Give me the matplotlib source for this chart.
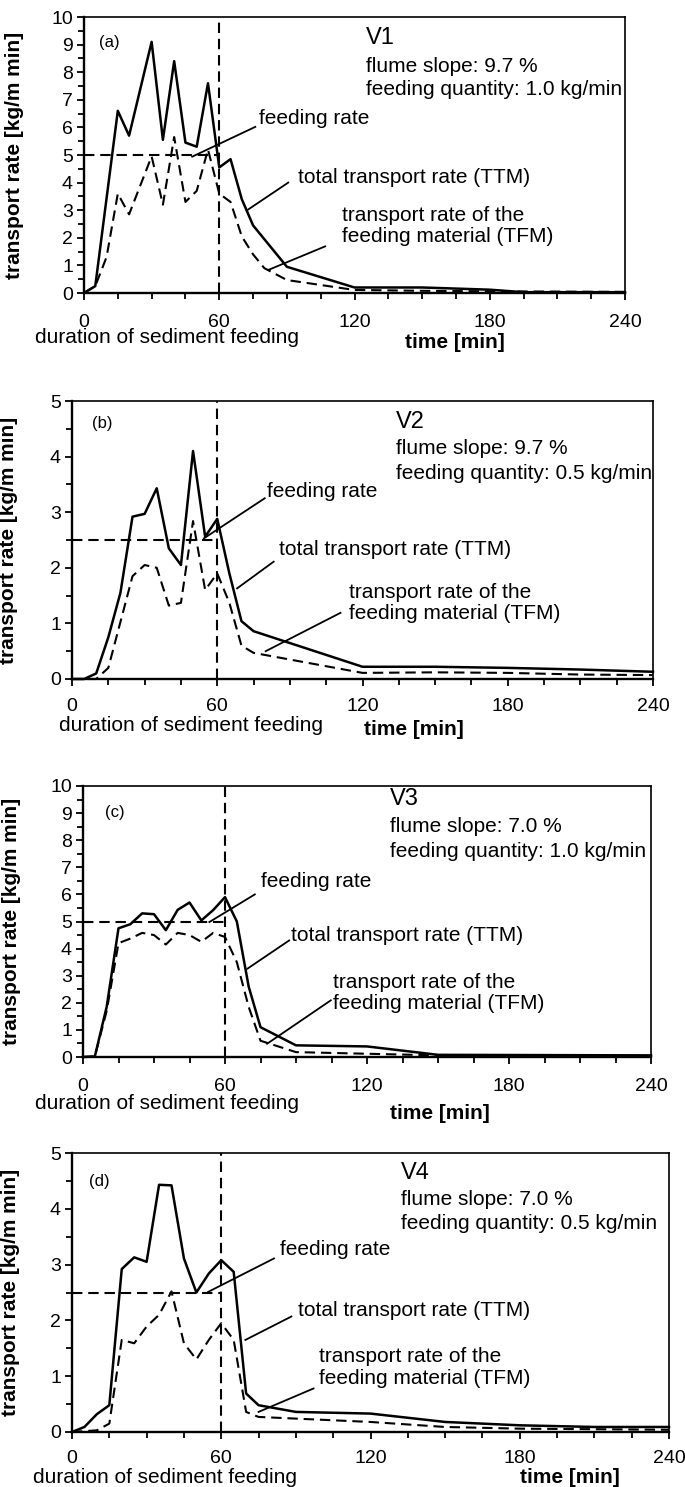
import matplotlib
matplotlib.use("Agg")
import matplotlib.pyplot as plt
from matplotlib.ticker import MultipleLocator

plt.rcParams["font.family"] = ["Liberation Sans", "DejaVu Sans"]

# ---- data (time in min, rate in kg/(m min)) ----
t_ttm_a = [0, 5, 15, 20, 30, 35, 40, 45, 50, 55, 60, 65, 70, 75, 90, 120, 150, 180, 195, 240]
ttm_a = [0, 0.25, 6.6, 5.7, 9.1, 5.55, 8.4, 5.45, 5.3, 7.6, 4.55, 4.85, 3.4, 2.45, 0.95, 0.2, 0.2, 0.12, 0.03, 0.03]
t_tfm_a = [0, 5, 10, 15, 20, 30, 35, 40, 45, 50, 55, 60, 65, 70, 75, 80, 90, 120, 150, 180, 240]
tfm_a = [0, 0.25, 1.3, 3.6, 2.85, 4.95, 3.2, 5.65, 3.3, 3.7, 5.2, 3.6, 3.3, 2.05, 1.4, 0.9, 0.47, 0.11, 0.08, 0.06, 0.04]

t_ttm_b = [0, 5, 10, 15, 20, 25, 30, 35, 40, 45, 50, 55, 60, 65, 70, 75, 120, 150, 180, 210, 240]
ttm_b = [0, 0.0, 0.1, 0.75, 1.55, 2.92, 2.97, 3.43, 2.35, 2.05, 4.1, 2.56, 2.88, 1.9, 1.04, 0.86, 0.22, 0.22, 0.2, 0.17, 0.13]
t_tfm_b = [0, 10, 15, 25, 30, 35, 40, 45, 50, 55, 60, 65, 70, 75, 120, 150, 180, 210, 240]
tfm_b = [0, 0, 0.2, 1.85, 2.05, 2.0, 1.32, 1.37, 2.84, 1.6, 1.9, 1.37, 0.6, 0.47, 0.11, 0.12, 0.11, 0.08, 0.07]

t_ttm_c = [0, 5, 10, 15, 20, 25, 30, 35, 40, 45, 50, 55, 60, 65, 70, 75, 90, 120, 150, 240]
ttm_c = [0, 0.02, 1.85, 4.75, 4.9, 5.3, 5.27, 4.68, 5.43, 5.7, 5.04, 5.42, 5.9, 5.0, 2.6, 1.1, 0.43, 0.39, 0.08, 0.06]
t_tfm_c = [0, 5, 10, 15, 20, 25, 30, 35, 40, 45, 50, 55, 60, 65, 70, 75, 90, 120, 150, 240]
tfm_c = [0, 0.02, 1.7, 4.2, 4.37, 4.58, 4.5, 4.15, 4.58, 4.5, 4.25, 4.58, 4.43, 3.5, 1.85, 0.6, 0.18, 0.12, 0.06, 0.04]

t_ttm_d = [0, 5, 10, 15, 20, 25, 30, 35, 40, 45, 50, 55, 60, 65, 70, 75, 90, 120, 150, 180, 210, 240]
ttm_d = [0, 0.09, 0.32, 0.48, 2.92, 3.13, 3.05, 4.43, 4.42, 3.11, 2.5, 2.84, 3.08, 2.87, 0.69, 0.48, 0.36, 0.33, 0.18, 0.12, 0.09, 0.09]
t_tfm_d = [0, 10, 15, 20, 25, 30, 35, 40, 45, 50, 55, 60, 65, 70, 75, 120, 150, 180, 240]
tfm_d = [0, 0.03, 0.15, 1.65, 1.59, 1.89, 2.1, 2.52, 1.59, 1.3, 1.65, 1.95, 1.65, 0.36, 0.27, 0.18, 0.09, 0.06, 0.04]

feed_rate = [5.0, 2.5, 5.0, 2.5]
feed_end = 60
y_max = [10, 5, 10, 5]
panel_tags = ["(a)", "(b)", "(c)", "(d)"]
run_names = ["V1", "V2", "V3", "V4"]
slopes = ["9.7 %", "9.7 %", "7.0 %", "7.0 %"]
quantities = ["1.0 kg/min", "0.5 kg/min", "1.0 kg/min", "0.5 kg/min"]
x_ticks = [0, 60, 120, 180, 240]

series = [
    (t_ttm_a, ttm_a, t_tfm_a, tfm_a),
    (t_ttm_b, ttm_b, t_tfm_b, tfm_b),
    (t_ttm_c, ttm_c, t_tfm_c, tfm_c),
    (t_ttm_d, ttm_d, t_tfm_d, tfm_d),
]

# ---- layout (pixel boxes of the axes, text spots in axes fraction) ----
W, H = 685, 1487
boxes = [(84, 625, 17, 293), (72, 653, 401, 679), (83, 651, 786, 1057), (72, 669, 1153, 1432)]
ylab_x = [-0.111, -0.093, -0.109, -0.087]
x_pad = [10, 9, 10, 8]
tag_pos = [(0.027, 0.906), (0.034, 0.92), (0.039, 0.904), (0.029, 0.898)]
head_x = [0.521, 0.557, 0.54, 0.551]
head_y = [(0.924, 0.819, 0.736), (0.926, 0.83, 0.74), (0.953, 0.849, 0.76), (0.928, 0.832, 0.749)]
feed_txt = [(0.323, 0.634), (0.335, 0.674), (0.313, 0.646), (0.349, 0.653)]
ttm_txt = [(0.396, 0.42), (0.356, 0.465), (0.367, 0.449), (0.379, 0.437)]
tfm_txt = [(0.477, 0.243), (0.477, 0.273), (0.44, 0.237), (0.414, 0.231)]
# leader lines in data coords: (x_text_end, y_text_end, x_curve, y_curve)
feed_lead = [(76, 6.02, 48, 4.94), (79.6, 3.25, 54.5, 2.53), (72.6, 6.0, 53.4, 4.98), (81.2, 3.11, 54.7, 2.51)]
ttm_lead = [(90.6, 4.0, 72.2, 2.99), (83.3, 2.11, 68.2, 1.63), (87.1, 4.3, 69.5, 3.26), (88.2, 2.07, 69.7, 1.65)]
tfm_lead = [(107, 1.69, 81.9, 0.84), (110.9, 1.19, 80, 0.5), (104.7, 2.09, 77.8, 0.49), (97.1, 0.78, 75, 0.36)]
dur_pos = [(-0.091, -0.163), (-0.023, -0.168), (-0.085, -0.172), (-0.066, -0.162)]
time_pos = [(0.594, -0.181), (0.502, -0.18), (0.54, -0.207), (0.75, -0.162)]

DASH = (0, (5, 2.8))
FS = 15

fig = plt.figure(figsize=(W / 100, H / 100), dpi=100)
fig.patch.set_facecolor("white")

for i in range(4):
    l, r, t, b = boxes[i]
    ax = fig.add_axes([l / W, 1 - b / H, (r - l) / W, (b - t) / H])
    t1, y1, t2, y2 = series[i]

    ax.plot(t1, y1, color="black", lw=1.8, clip_on=False, zorder=3)
    ax.plot(t2, y2, color="black", lw=1.5, ls=DASH, clip_on=False, zorder=3)
    ax.plot([0, feed_end], [feed_rate[i], feed_rate[i]], color="black", lw=1.5, ls=DASH)
    ax.axvline(feed_end, color="black", lw=1.5, ls=DASH)

    ax.set_xlim(0, 240)
    ax.set_ylim(0, y_max[i])
    ax.set_xticks(x_ticks)
    ax.xaxis.set_minor_locator(MultipleLocator(15))
    ax.yaxis.set_major_locator(MultipleLocator(1))
    ax.yaxis.set_minor_locator(MultipleLocator(0.5))
    ax.tick_params(which="both", direction="out", width=1.3, top=False, right=False)
    ax.tick_params(which="major", length=5, labelsize=14)
    ax.tick_params(axis="x", which="major", pad=x_pad[i])
    ax.tick_params(axis="y", which="major", pad=3)
    ax.tick_params(which="minor", length=4.5)
    for side in ("left", "bottom"):
        ax.spines[side].set_linewidth(1.7)
    for side in ("top", "right"):
        ax.spines[side].set_linewidth(1.2)

    ax.set_ylabel("transport rate [kg/m min]", fontsize=FS, fontweight="bold")
    ax.yaxis.set_label_coords(ylab_x[i], 0.5)

    ax.text(*tag_pos[i], panel_tags[i], transform=ax.transAxes, fontsize=12, va="center")
    hy = head_y[i]
    ax.text(head_x[i], hy[0], run_names[i], transform=ax.transAxes, fontsize=17, va="center")
    ax.text(head_x[i], hy[1], "flume slope: " + slopes[i], transform=ax.transAxes, fontsize=FS, va="center")
    ax.text(head_x[i], hy[2], "feeding quantity: " + quantities[i], transform=ax.transAxes,
            fontsize=FS, va="center")

    ax.text(*feed_txt[i], "feeding rate", transform=ax.transAxes, fontsize=FS, va="center")
    ax.text(*ttm_txt[i], "total transport rate (TTM)", transform=ax.transAxes, fontsize=FS, va="center")
    ax.text(*tfm_txt[i], "transport rate of the\nfeeding material (TFM)", transform=ax.transAxes,
            fontsize=FS, va="center", linespacing=1.15)
    for lead in (feed_lead[i], ttm_lead[i], tfm_lead[i]):
        ax.plot([lead[0], lead[2]], [lead[1], lead[3]], color="black", lw=1.3)

    ax.text(*dur_pos[i], "duration of sediment feeding", transform=ax.transAxes,
            fontsize=FS, va="center", clip_on=False)
    ax.text(*time_pos[i], "time [min]", transform=ax.transAxes, fontsize=FS,
            fontweight="bold", va="center", clip_on=False)

fig.savefig("out.png", dpi=100, facecolor="white")
